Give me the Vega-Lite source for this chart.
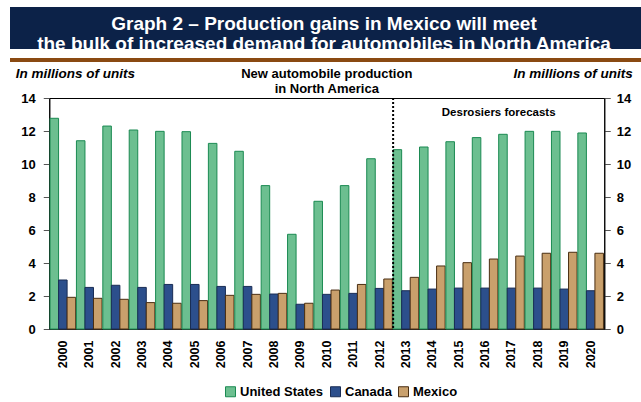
{
  "$schema": "https://vega.github.io/schema/vega-lite/v6.json",
  "padding": {"left": 10, "top": 7, "right": 0, "bottom": 0},
  "background": "white",
  "config": {
    "font": "Liberation Sans",
    "legend": {"layout": {"bottom": {"anchor": "middle"}}}
  },
  "datasets": {
    "prod": [
      {"year": "2000", "series": "United States", "value": 12.77},
      {"year": "2000", "series": "Canada", "value": 2.97},
      {"year": "2000", "series": "Mexico", "value": 1.92},
      {"year": "2001", "series": "United States", "value": 11.41},
      {"year": "2001", "series": "Canada", "value": 2.52},
      {"year": "2001", "series": "Mexico", "value": 1.86},
      {"year": "2002", "series": "United States", "value": 12.3},
      {"year": "2002", "series": "Canada", "value": 2.65},
      {"year": "2002", "series": "Mexico", "value": 1.8},
      {"year": "2003", "series": "United States", "value": 12.06},
      {"year": "2003", "series": "Canada", "value": 2.52},
      {"year": "2003", "series": "Mexico", "value": 1.6},
      {"year": "2004", "series": "United States", "value": 11.98},
      {"year": "2004", "series": "Canada", "value": 2.7},
      {"year": "2004", "series": "Mexico", "value": 1.56},
      {"year": "2005", "series": "United States", "value": 11.96},
      {"year": "2005", "series": "Canada", "value": 2.7},
      {"year": "2005", "series": "Mexico", "value": 1.72},
      {"year": "2006", "series": "United States", "value": 11.25},
      {"year": "2006", "series": "Canada", "value": 2.58},
      {"year": "2006", "series": "Mexico", "value": 2.04},
      {"year": "2007", "series": "United States", "value": 10.77},
      {"year": "2007", "series": "Canada", "value": 2.58},
      {"year": "2007", "series": "Mexico", "value": 2.1},
      {"year": "2008", "series": "United States", "value": 8.69},
      {"year": "2008", "series": "Canada", "value": 2.12},
      {"year": "2008", "series": "Mexico", "value": 2.16},
      {"year": "2009", "series": "United States", "value": 5.74},
      {"year": "2009", "series": "Canada", "value": 1.5},
      {"year": "2009", "series": "Mexico", "value": 1.56},
      {"year": "2010", "series": "United States", "value": 7.74},
      {"year": "2010", "series": "Canada", "value": 2.1},
      {"year": "2010", "series": "Mexico", "value": 2.36},
      {"year": "2011", "series": "United States", "value": 8.69},
      {"year": "2011", "series": "Canada", "value": 2.16},
      {"year": "2011", "series": "Mexico", "value": 2.7},
      {"year": "2012", "series": "United States", "value": 10.32},
      {"year": "2012", "series": "Canada", "value": 2.46},
      {"year": "2012", "series": "Mexico", "value": 3.03},
      {"year": "2013", "series": "United States", "value": 10.87},
      {"year": "2013", "series": "Canada", "value": 2.32},
      {"year": "2013", "series": "Mexico", "value": 3.13},
      {"year": "2014", "series": "United States", "value": 11.03},
      {"year": "2014", "series": "Canada", "value": 2.42},
      {"year": "2014", "series": "Mexico", "value": 3.82},
      {"year": "2015", "series": "United States", "value": 11.35},
      {"year": "2015", "series": "Canada", "value": 2.48},
      {"year": "2015", "series": "Mexico", "value": 4.02},
      {"year": "2016", "series": "United States", "value": 11.6},
      {"year": "2016", "series": "Canada", "value": 2.48},
      {"year": "2016", "series": "Mexico", "value": 4.24},
      {"year": "2017", "series": "United States", "value": 11.8},
      {"year": "2017", "series": "Canada", "value": 2.48},
      {"year": "2017", "series": "Mexico", "value": 4.42},
      {"year": "2018", "series": "United States", "value": 11.98},
      {"year": "2018", "series": "Canada", "value": 2.48},
      {"year": "2018", "series": "Mexico", "value": 4.59},
      {"year": "2019", "series": "United States", "value": 11.98},
      {"year": "2019", "series": "Canada", "value": 2.42},
      {"year": "2019", "series": "Mexico", "value": 4.65},
      {"year": "2020", "series": "United States", "value": 11.88},
      {"year": "2020", "series": "Canada", "value": 2.32},
      {"year": "2020", "series": "Mexico", "value": 4.59}
    ]
  },
  "center": true,
  "spacing": 0,
  "vconcat": [
    {
      "spacing": 0,
      "vconcat": [
        {
          "width": 662,
          "height": 42,
          "view": {"fill": "#0c2248", "stroke": null},
          "data": {"values": [{"t": "banner"}]},
          "mark": {
            "type": "text",
            "color": "white",
            "fontSize": 19,
            "fontWeight": "bold",
            "lineHeight": 20,
            "align": "center",
            "baseline": "middle",
            "dy": -4,
            "dx": -17
          },
          "encoding": {
            "text": {"value": ["Graph 2 – Production gains in Mexico will meet", "the bulk of increased demand for automobiles in North America"]}
          }
        },
        {
          "width": 662,
          "height": 4,
          "view": {"fill": "#8a4a12", "stroke": null},
          "data": {"values": [{"t": "stripe"}]},
          "mark": {"type": "text", "text": ""},
          "encoding": {}
        }
      ]
    },
    {
      "width": 555,
      "height": 231,
      "view": {"stroke": "black", "strokeWidth": 1},
      "title": {
        "text": ["New automobile production", "in North America"],
        "fontSize": 13,
        "fontWeight": "bold",
        "lineHeight": 15,
        "anchor": "middle",
        "offset": -30,
        "color": "black"
      },
      "layer": [
        {
          "data": {"name": "prod"},
          "mark": {"type": "bar", "strokeWidth": 1},
          "encoding": {
            "x": {
              "field": "year",
              "type": "nominal",
              "scale": {"paddingInner": 0.03, "paddingOuter": 0.03},
              "axis": {
                "title": null,
                "labelAngle": -90,
                "labelFontSize": 12.5,
                "labelFontWeight": "bold",
                "labelColor": "black",
                "labelPadding": 11,
                "ticks": false,
                "domainColor": "#222",
                "labelBaseline": "middle",
                "labelAlign": "right"
              }
            },
            "xOffset": {
              "field": "series",
              "type": "nominal",
              "sort": ["United States", "Canada", "Mexico"],
              "scale": {"paddingInner": 0, "paddingOuter": 0}
            },
            "y": {
              "field": "value",
              "type": "quantitative",
              "scale": {"domain": [0, 14]},
              "axis": {
                "orient": "left",
                "values": [0, 2, 4, 6, 8, 10, 12, 14],
                "grid": false,
                "title": "In millions of units",
                "titleAngle": 0,
                "titleAlign": "left",
                "titleBaseline": "middle",
                "titleX": -34,
                "titleY": -25,
                "titleFontSize": 13.5,
                "titleFontWeight": "bold",
                "titleFontStyle": "italic",
                "titleColor": "black",
                "labelFontSize": 13,
                "labelFontWeight": "bold",
                "labelColor": "black",
                "labelPadding": 8,
                "tickColor": "#555",
                "tickSize": 6,
                "domainColor": "black"
              }
            },
            "fill": {
              "field": "series",
              "type": "nominal",
              "sort": ["United States", "Canada", "Mexico"],
              "scale": {"domain": ["United States", "Canada", "Mexico"], "range": ["#6cbf90", "#2c4f8c", "#c9a06c"]},
              "legend": {
                "title": null,
                "orient": "bottom",
                "direction": "horizontal",
                "symbolType": "square",
                "symbolSize": 100,
                "symbolStrokeWidth": 1,
                "labelFontSize": 13,
                "labelFontWeight": "bold",
                "labelColor": "black",
                "columnPadding": 4,
                "labelOffset": 3,
                "offset": 16
              }
            },
            "stroke": {
              "field": "series",
              "type": "nominal",
              "sort": ["United States", "Canada", "Mexico"],
              "scale": {"domain": ["United States", "Canada", "Mexico"], "range": ["#1b8a52", "#1a2d55", "#4a2e12"]},
              "legend": null
            }
          }
        },
        {
          "data": {"name": "prod"},
          "mark": {"type": "tick", "opacity": 0},
          "encoding": {
            "y": {
              "field": "value",
              "type": "quantitative",
              "axis": {
                "orient": "right",
                "values": [0, 2, 4, 6, 8, 10, 12, 14],
                "grid": false,
                "title": "In millions of units",
                "titleAngle": 0,
                "titleAlign": "right",
                "titleBaseline": "middle",
                "titleX": 28,
                "titleY": -25,
                "titleFontSize": 13.5,
                "titleFontWeight": "bold",
                "titleFontStyle": "italic",
                "titleColor": "black",
                "labelFontSize": 13,
                "labelFontWeight": "bold",
                "labelColor": "black",
                "labelPadding": 6,
                "tickColor": "#555",
                "tickSize": 6,
                "domainColor": "black"
              }
            }
          }
        },
        {
          "data": {"values": [{"year": "2013"}]},
          "mark": {"type": "rule", "color": "black", "strokeWidth": 2, "strokeDash": [2, 2]},
          "encoding": {
            "x": {"field": "year", "type": "nominal", "bandPosition": 0}
          }
        },
        {
          "data": {"values": [{"year": "2017", "value": 13.1, "label": "Desrosiers forecasts"}]},
          "mark": {"type": "text", "fontSize": 11.5, "fontWeight": "bold", "color": "black", "align": "center", "baseline": "middle"},
          "encoding": {
            "x": {"field": "year", "type": "nominal", "bandPosition": 0},
            "y": {"field": "value", "type": "quantitative", "axis": null},
            "text": {"field": "label"}
          }
        }
      ]
    }
  ]
}
